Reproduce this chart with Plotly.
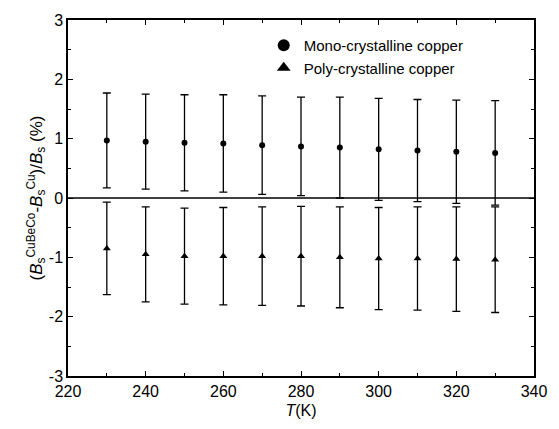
import plotly.graph_objects as go

# Temperature points (K)
temps = [230, 240, 250, 260, 270, 280, 290, 300, 310, 320, 330]

# Relative difference (%) and error half-widths
mono_vals = [0.97, 0.95, 0.93, 0.92, 0.89, 0.87, 0.85, 0.82, 0.80, 0.78, 0.76]
mono_err = [0.80, 0.80, 0.81, 0.82, 0.83, 0.83, 0.85, 0.86, 0.86, 0.87, 0.88]
poly_vals = [-0.85, -0.95, -0.98, -0.98, -0.98, -0.98, -1.00, -1.02, -1.02, -1.03, -1.04]
poly_err = [0.78, 0.80, 0.81, 0.82, 0.83, 0.84, 0.85, 0.86, 0.87, 0.88, 0.89]

x_ticks = [220, 240, 260, 280, 300, 320, 340]
y_ticks = [-3, -2, -1, 0, 1, 2, 3]
y_labels = ["-3", "-2", "-1", "0", "1", "2", "3"]

FONT = "Liberation Sans, Arial, sans-serif"

fig = go.Figure()

err_style = dict(type="data", thickness=1.3, width=4, color="black")

fig.add_trace(go.Scatter(
    x=temps, y=mono_vals, mode="markers", name="Mono-crystalline copper",
    marker=dict(symbol="circle", size=6, color="black"),
    error_y=dict(array=mono_err, **err_style),
))
fig.add_trace(go.Scatter(
    x=temps, y=poly_vals, mode="markers", name="Poly-crystalline copper",
    marker=dict(symbol="triangle-up", size=7, color="black"),
    error_y=dict(array=poly_err, **err_style),
))

# horizontal reference line at zero
fig.add_shape(type="line", xref="paper", x0=0, x1=1, yref="y", y0=0, y1=0,
              line=dict(color="black", width=1.3))

axis_common = dict(
    showgrid=False, zeroline=False, showline=True, linecolor="black",
    linewidth=1.5, mirror="allticks", ticks="inside", ticklen=5,
    tickcolor="black", tickwidth=1.2,
    tickfont=dict(family=FONT, size=16, color="black"),
)

fig.update_xaxes(
    range=[220, 340], tickvals=x_ticks,
    minor=dict(dtick=10, ticks="inside", ticklen=3, tickcolor="black"),
    title=dict(text="<i>T</i>(K)", font=dict(family=FONT, size=16, color="black"),
               standoff=6),
    **axis_common,
)
fig.update_yaxes(
    range=[-3, 3], tickvals=y_ticks, ticktext=y_labels,
    minor=dict(dtick=0.5, ticks="inside", ticklen=3, tickcolor="black"),
    title=dict(
        text="(<i>B</i><sub>s</sub><sup>CuBeCo</sup>-<i>B</i><sub>s</sub><sup>Cu</sup>)/<i>B</i><sub>s</sub> (%)",
        font=dict(family=FONT, size=17, color="black"), standoff=2),
    **axis_common,
)

fig.update_layout(
    width=559, height=429,
    margin=dict(l=68, r=16, t=19, b=50),
    paper_bgcolor="white", plot_bgcolor="white",
    showlegend=True,
    legend=dict(x=0.42, y=0.975, xanchor="left", yanchor="top",
                bgcolor="rgba(0,0,0,0)", borderwidth=0,
                font=dict(family=FONT, size=15, color="black"),
                itemsizing="constant", tracegroupgap=0),
)

fig.write_html("out.html")
